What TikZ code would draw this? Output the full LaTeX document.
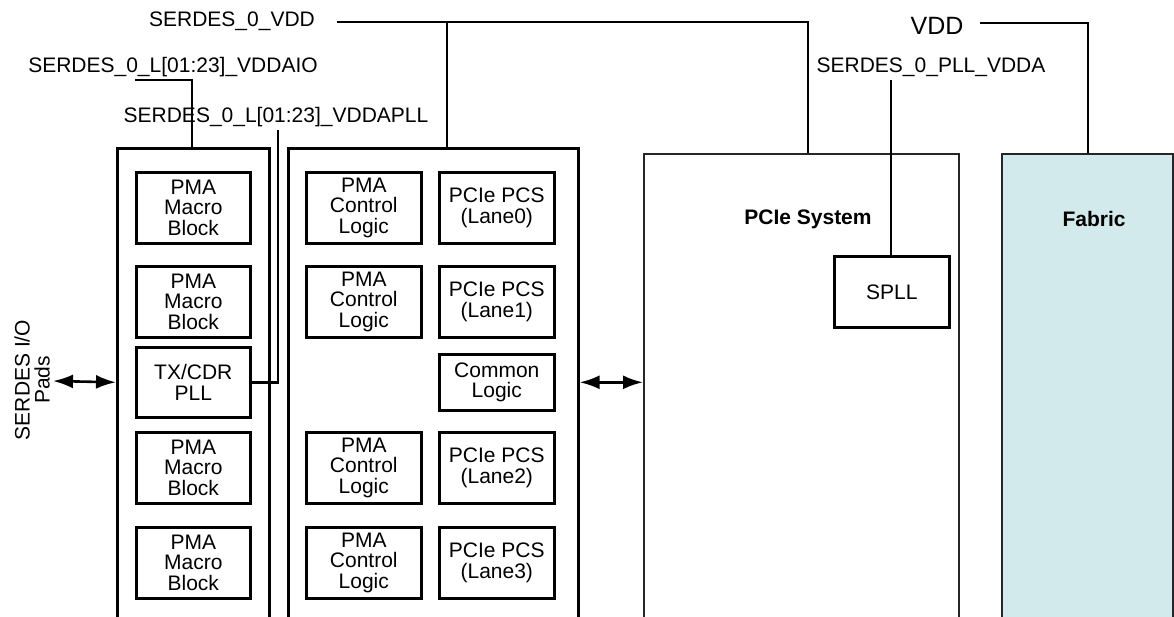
\documentclass[tikz,border=0pt]{standalone}
\usepackage{fontspec}
\setmainfont{Liberation Sans}
\usetikzlibrary{arrows.meta}

\definecolor{fabricfill}{HTML}{D2EAEC}

\begin{document}
\begin{tikzpicture}[x=1pt,y=-1pt,
  wire/.style={line width=2.6pt},
  cont/.style={draw,line width=2.6pt,anchor=north west,inner sep=0pt,minimum height=520pt},
  blk/.style={draw,line width=2.6pt,anchor=north west,minimum width=114pt,minimum height=71pt,
    inner sep=0pt,align=center,font=\fontsize{21}{20.5}\selectfont},
  lbl/.style={anchor=base,inner sep=0pt,font=\fontsize{21}{25}\selectfont},
  title/.style={inner sep=0pt,font=\fontsize{21}{25}\selectfont\bfseries},
  tip/.tip={Latex[length=20pt,width=14pt]},
  bus/.style={line width=2.6pt,arrows={tip-tip}}
]
\useasboundingbox (0,0) rectangle (1174,617);
\clip (0,0) rectangle (1174,617);

% containers (open towards the bottom of the page)
\node[cont,minimum width=152pt] (lane) at (116,147) {};
\node[cont,minimum width=290pt] (core) at (287,147) {};
\node[cont,minimum width=315pt,line width=2.2pt,draw=black!85] (pcie) at (643,153) {};
\node[cont,minimum width=171pt,line width=2.2pt,draw=black!85,fill=fabricfill] (fabric) at (1001,153) {};

\node[title] (pcielbl) at (808,219) {PCIe System};
\node[title] (fablbl) at (1094,219) {Fabric};

% lane column
\node[blk] (ma1) at (135,171) {PMA\\Macro\\Block};
\node[blk] (ma2) at (135,265) {PMA\\Macro\\Block};
\node[blk,minimum height=70pt] (pll) at (135,346) {TX/CDR\\PLL};
\node[blk] (ma3) at (135,431) {PMA\\Macro\\Block};
\node[blk] (ma4) at (135,526) {PMA\\Macro\\Block};

% control / PCS columns
\node[blk,minimum width=115pt] (cl0) at (305,171) {PMA\\Control\\Logic};
\node[blk,minimum width=115pt] (cl1) at (305,265) {PMA\\Control\\Logic};
\node[blk,minimum width=115pt] (cl2) at (305,431) {PMA\\Control\\Logic};
\node[blk,minimum width=115pt] (cl3) at (305,526) {PMA\\Control\\Logic};
\node[blk,minimum width=115pt] (pcs0) at (438,171) {PCIe PCS\\(Lane0)};
\node[blk,minimum width=115pt] (pcs1) at (438,265) {PCIe PCS\\(Lane1)};
\node[blk,minimum width=115pt,minimum height=56pt] (cmn) at (438,353) {Common\\Logic};
\node[blk,minimum width=115pt] (pcs2) at (438,431) {PCIe PCS\\(Lane2)};
\node[blk,minimum width=115pt] (pcs3) at (438,526) {PCIe PCS\\(Lane3)};

% SPLL inside PCIe system
\node[blk,minimum width=115pt] (spll) at (833,255) {SPLL};

% supply labels
\node[lbl] (lvdd) at (232,27) {SERDES\_0\_VDD};
\node[lbl] (laio) at (173,73) {SERDES\_0\_L[01:23]\_VDDAIO};
\node[lbl] (lapll) at (276,123) {SERDES\_0\_L[01:23]\_VDDAPLL};
\node[lbl,font=\fontsize{25}{30}\selectfont] (lvddf) at (937,35) {VDD};
\node[lbl] (lpllv) at (931,73) {SERDES\_0\_PLL\_VDDA};

\node[rotate=90,align=center,inner sep=0pt,font=\fontsize{21}{20}\selectfont] (pads) at (32,380) {SERDES I/O\\Pads};

% wire end points
\coordinate (vddA) at (337,22);
\coordinate (pcietap) at ([xshift=165pt]pcie.north west);
\coordinate (coretap) at ([xshift=160pt]core.north west);
\coordinate (aioA) at (135,80);
\coordinate (lanetap) at ([xshift=76pt]lane.north west);
\coordinate (apllA) at (278,130);
\coordinate (pvA) at (891,80);
\coordinate (vddB) at (980,23);
\coordinate (fabtap) at ([xshift=87pt]fabric.north west);
\coordinate (padsend) at (53,381);

% supply wires
\draw[wire] (vddA) -| (pcietap);
\draw[wire] (coretap) -- (coretap |- vddA);
\draw[wire] (aioA) -| (lanetap);
\draw[wire] (pll.east) -| (apllA);
\draw[wire] (pvA) -- (pvA |- spll.north);
\draw[wire] (vddB) -| (fabtap);

% data paths
\draw[bus] (padsend) -- (lane.west |- pll.east);
\draw[bus] (core.east |- pll.east) -- (pcie.west |- pll.east);
\end{tikzpicture}
\end{document}
